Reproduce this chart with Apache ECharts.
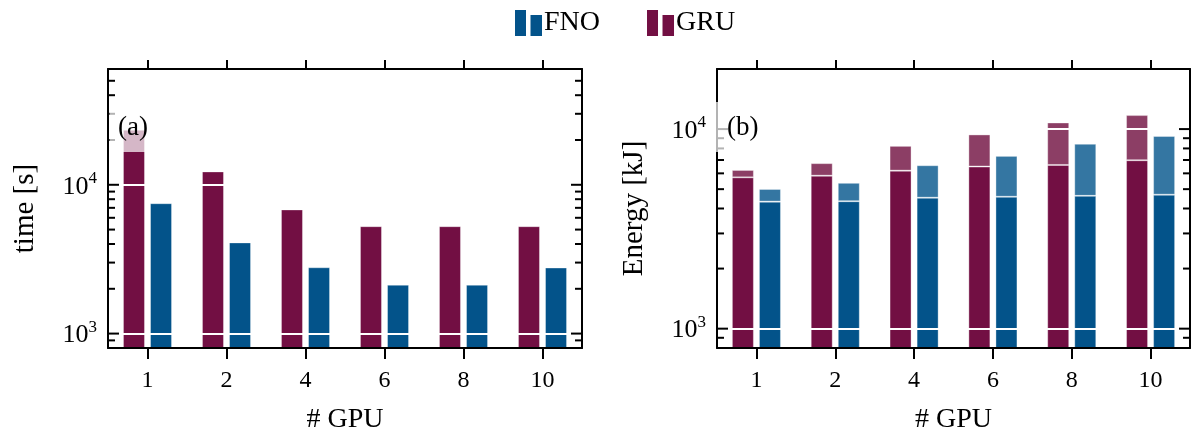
<!DOCTYPE html>
<html>
<head>
<meta charset="utf-8">
<script src="https://cdn.jsdelivr.net/npm/echarts@6/dist/echarts.min.js"></script>
<style>
  html, body { margin: 0; padding: 0; background: #fff; }
  #chart { width: 1197px; height: 440px; }
</style>
</head>
<body>
<div id="chart"></div>
<script>
// GPU counts on the shared category axis
const gpuCounts = ['1', '2', '4', '6', '8', '10'];

// (a) wall-clock time per run, seconds
const timeGru = [23400, 12300, 6830, 5270, 5270, 5270];
const timeFno = [7520, 4100, 2790, 2130, 2130, 2780];

// (b) energy per run, kJ: lower share and bar total
const energyGruBase  = [5730, 5840, 6190, 6490, 6610, 6980];
const energyGruTotal = [6240, 6750, 8240, 9400, 10790, 11750];
const energyFnoBase  = [4330, 4350, 4530, 4580, 4630, 4690];
const energyFnoTotal = [5010, 5380, 6590, 7340, 8440, 9230];

// labelled decades on both value axes
const decadeTicks = [1000, 10000];

const FONT = 'Liberation Serif';
const GRU_DARK = '#720f43';
const GRU_LIGHT = '#8c3e65';
const FNO_DARK = '#03538a';
const FNO_LIGHT = '#3476a2';

const panels = [
  { left: 108, top: 69, width: 474, height: 279, min: 800, max: 60000, name: 'time [s]', tag: '(a)' },
  { left: 717, top: 69, width: 473, height: 279, min: 800, max: 20000, name: 'Energy [kJ]', tag: '(b)' }
];

const chart = echarts.init(document.getElementById('chart'), null, { renderer: 'canvas' });

const axisLine = { show: true, lineStyle: { color: '#000', width: 2 } };

function isDecade(v) {
  const e = Math.log10(v);
  return Math.abs(e - Math.round(e)) < 1e-6;
}

const xAxis = [];
const yAxis = [];
panels.forEach((p, i) => {
  xAxis.push({
    type: 'category', gridIndex: i, position: 'bottom', data: gpuCounts, z: 10,
    axisLine,
    axisTick: { show: true, alignWithLabel: true, inside: false, length: 11, lineStyle: { color: '#000', width: 2 } },
    axisLabel: { fontFamily: FONT, fontSize: 24, color: '#000', margin: 21 },
    name: '# GPU', nameLocation: 'middle', nameGap: 58,
    nameTextStyle: { fontFamily: FONT, fontSize: 28, color: '#000' },
    splitLine: { show: false }
  });
  xAxis.push({
    type: 'category', gridIndex: i, position: 'top', data: gpuCounts, z: 10,
    axisLine,
    axisTick: { show: true, alignWithLabel: true, inside: false, length: 9, lineStyle: { color: '#000', width: 2 } },
    axisLabel: { show: false },
    splitLine: { show: false }
  });
  yAxis.push({
    type: 'log', logBase: 10, gridIndex: i, position: 'left', min: p.min, max: p.max, z: 10,
    axisLine,
    axisTick: { show: false },
    splitLine: { show: false },
    minorTick: { show: false },
    axisLabel: {
      margin: 11,
      showMinLabel: false, showMaxLabel: false,
      formatter: v => isDecade(v) ? '{b|10}{s|' + Math.round(Math.log10(v)) + '}' : '',
      rich: {
        b: { fontFamily: FONT, fontSize: 26, color: '#000', lineHeight: 30, verticalAlign: 'bottom' },
        s: { fontFamily: FONT, fontSize: 17, color: '#000', lineHeight: 30, verticalAlign: 'top' }
      }
    },
    name: p.name, nameLocation: 'middle', nameRotate: 90, nameGap: 68,
    nameTextStyle: { fontFamily: FONT, fontSize: 29, color: '#000' }
  });
  yAxis.push({
    type: 'log', logBase: 10, gridIndex: i, position: 'right', min: p.min, max: p.max, z: 10,
    axisLine,
    axisTick: { show: false },
    splitLine: { show: false },
    axisLabel: { show: false }
  });
});

const barBase = { type: 'bar', barWidth: 22, barGap: '23%', animation: false };

// white decade lines drawn across the bars
const decadeLines = {
  silent: true, symbol: 'none', animation: false,
  label: { show: false },
  lineStyle: { color: '#fff', width: 2, type: 'solid' },
  emphasis: { disabled: true },
  data: decadeTicks.map(v => ({ yAxis: v }))
};

function withColor(color) {
  return { color, borderColor: 'rgba(255,255,255,0.35)', borderWidth: 1 };
}

const series = [
  Object.assign({}, barBase, { name: 'GRU', xAxisIndex: 0, yAxisIndex: 0, data: timeGru, itemStyle: withColor(GRU_DARK) }),
  Object.assign({}, barBase, { name: 'FNO', xAxisIndex: 0, yAxisIndex: 0, data: timeFno, itemStyle: withColor(FNO_DARK), markLine: decadeLines }),
  Object.assign({}, barBase, { name: 'GRU', xAxisIndex: 2, yAxisIndex: 2, stack: 'gru', data: energyGruBase, itemStyle: withColor(GRU_DARK) }),
  Object.assign({}, barBase, { name: 'GRU', xAxisIndex: 2, yAxisIndex: 2, stack: 'gru', data: energyGruTotal.map((t, k) => t - energyGruBase[k]), itemStyle: withColor(GRU_LIGHT) }),
  Object.assign({}, barBase, { name: 'FNO', xAxisIndex: 2, yAxisIndex: 2, stack: 'fno', data: energyFnoBase, itemStyle: withColor(FNO_DARK) }),
  Object.assign({}, barBase, { name: 'FNO', xAxisIndex: 2, yAxisIndex: 2, stack: 'fno', data: energyFnoTotal.map((t, k) => t - energyFnoBase[k]), itemStyle: withColor(FNO_LIGHT), markLine: decadeLines })
];

chart.setOption({
  backgroundColor: '#fff',
  animation: false,
  grid: panels.map(p => ({ left: p.left, top: p.top, width: p.width, height: p.height, containLabel: false })),
  legend: {
    left: 510, top: 4, itemWidth: 27, itemHeight: 26, itemGap: 47, selectedMode: false,
    icon: 'path://M0,0H11V26H0Z M15.5,5H27V26H15.5Z',
    data: [
      { name: 'FNO', itemStyle: { color: FNO_DARK, borderWidth: 0 } },
      { name: 'GRU', itemStyle: { color: GRU_DARK, borderWidth: 0 } }
    ],
    textStyle: { fontFamily: FONT, fontSize: 28, color: '#000', padding: [4, 0, 0, -3] }
  },
  xAxis, yAxis, series
});

// inward major/minor ticks on both sides of each log axis, plus panel tags
const graphics = [];
panels.forEach((p, i) => {
  const lo = Math.floor(Math.log10(p.min));
  const hi = Math.ceil(Math.log10(p.max));
  [{ idx: 2 * i, x: p.left, dir: 1 }, { idx: 2 * i + 1, x: p.left + p.width, dir: -1 }].forEach(side => {
    for (let k = lo; k <= hi; k++) {
      for (let m = 1; m <= 9; m++) {
        const v = m * Math.pow(10, k);
        if (v <= p.min || v >= p.max) continue;
        const y = chart.convertToPixel({ yAxisIndex: side.idx }, v);
        const len = m === 1 ? 11 : 7;
        graphics.push({
          type: 'line', z: 20, silent: true,
          shape: { x1: side.x, y1: y, x2: side.x + side.dir * len, y2: y },
          style: { stroke: '#000', lineWidth: 2 }
        });
      }
    }
  });
  graphics.push({
    type: 'rect', z: 30, silent: true,
    shape: { x: p.left + (i === 0 ? 1.5 : -2), y: 102, width: i === 0 ? 43 : 46, height: 50 },
    style: { fill: 'rgba(255,255,255,0.7)' }
  });
  graphics.push({
    type: 'text', z: 31, silent: true,
    x: p.left + 10, y: 128,
    style: { text: p.tag, fontFamily: FONT, fontSize: 27, fill: '#000', verticalAlign: 'middle', align: 'left' }
  });
});

chart.setOption({ graphic: graphics });
</script>
</body>
</html>
